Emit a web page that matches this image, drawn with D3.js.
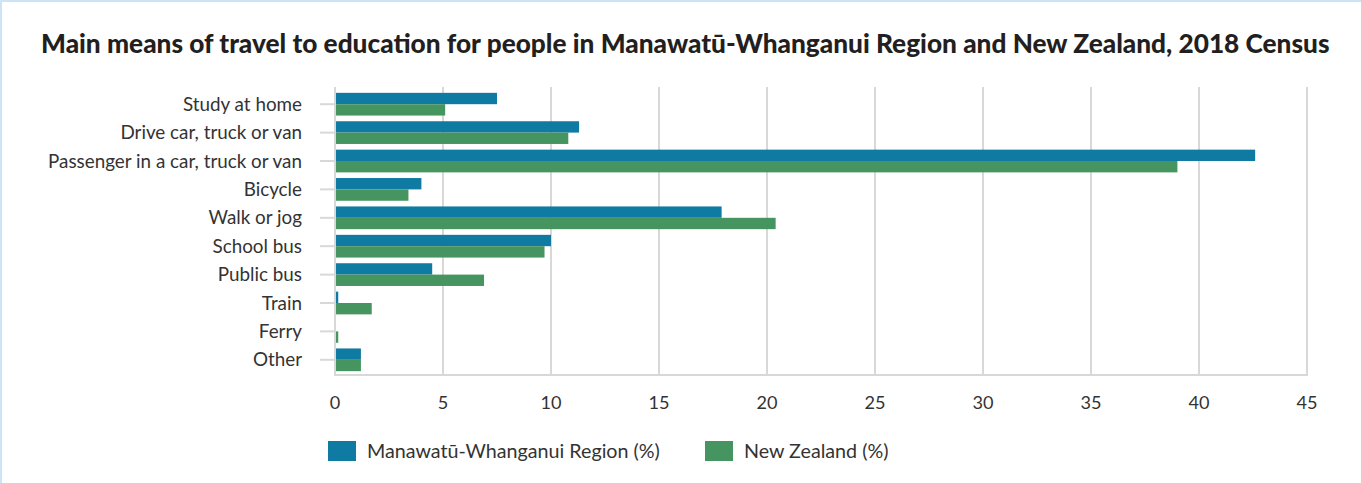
<!DOCTYPE html>
<html>
<head>
<meta charset="utf-8">
<script src="https://cdn.jsdelivr.net/npm/d3@7"></script>
<style>
  html, body { margin: 0; padding: 0; background: #fff; }
  svg { display: block; }
  text { font-family: Lato, "Open Sans", sans-serif; }
</style>
</head>
<body>
<svg width="1361" height="483"></svg>
<script>
  // data
  let categories = ["Study at home", "Drive car, truck or van", "Passenger in a car, truck or van",
    "Bicycle", "Walk or jog", "School bus", "Public bus", "Train", "Ferry", "Other"];
  let regionValues = [7.5, 11.3, 42.6, 4.0, 17.9, 10.0, 4.5, 0.15, 0, 1.2];
  let nzValues = [5.1, 10.8, 39.0, 3.4, 20.4, 9.7, 6.9, 1.7, 0.15, 1.2];
  let seriesNames = ["Manawatū-Whanganui Region (%)", "New Zealand (%)"];
  let xTicks = [0, 5, 10, 15, 20, 25, 30, 35, 40, 45];

  let colors = ["#0f7ba3", "#469460"];
  let gridColor = "#d8d8d8";
  let textColor = "#333";

  let svg = d3.select("svg");

  // pick a font size so that a text gets a given width
  function fitSize(str, weight, target) {
    let t = svg.append("text").attr("font-size", 20).attr("font-weight", weight).text(str);
    let w = t.node().getComputedTextLength();
    t.remove();
    return 20 * target / w;
  }

  // light blue frame on left and top
  svg.append("rect").attr("x", 0).attr("y", 0).attr("width", 1361).attr("height", 2).attr("fill", "#cde4f6");
  svg.append("rect").attr("x", 0).attr("y", 0).attr("width", 2).attr("height", 483).attr("fill", "#cde4f6");

  let titleText = "Main means of travel to education for people in Manawatū-Whanganui Region and New Zealand, 2018 Census";
  svg.append("text")
      .attr("x", 41)
      .attr("y", 53)
      .attr("font-size", fitSize(titleText, 900, 1289))
      .attr("font-weight", 900)
      .attr("fill", "#231f20")
      .text(titleText);

  let labelSize = fitSize(categories[2], 400, 254);
  let tickSize = fitSize("45", 400, 21);
  let legendSize = fitSize(seriesNames[0], 400, 293);

  let x = d3.scaleLinear()
      .domain([0, 45])
      .range([335, 1307]);

  let y = d3.scaleBand()
      .domain(categories)
      .range([90, 374])
      .paddingInner(0.2)
      .paddingOuter(0.1);

  let plotTop = 87, plotBottom = 375;

  // vertical grid
  svg.append("g")
    .selectAll("line")
    .data(xTicks)
    .enter().append("line")
      .attr("x1", (d) => x(d))
      .attr("x2", (d) => x(d))
      .attr("y1", plotTop)
      .attr("y2", plotBottom)
      .attr("stroke", gridColor)
      .attr("stroke-width", 2);

  // bottom axis line
  svg.append("line")
      .attr("x1", x(0) - 1).attr("x2", x(45) + 1)
      .attr("y1", plotBottom).attr("y2", plotBottom)
      .attr("stroke", gridColor).attr("stroke-width", 2);

  // y ticks
  svg.append("g")
    .selectAll("line")
    .data(categories)
    .enter().append("line")
      .attr("x1", 320)
      .attr("x2", x(0))
      .attr("y1", (d) => y(d) + y.bandwidth() / 2)
      .attr("y2", (d) => y(d) + y.bandwidth() / 2)
      .attr("stroke", gridColor)
      .attr("stroke-width", 2);

  // y labels
  svg.append("g")
    .selectAll("text")
    .data(categories)
    .enter().append("text")
      .attr("x", 302)
      .attr("y", (d) => y(d) + y.bandwidth() / 2)
      .attr("dy", ".35em")
      .attr("text-anchor", "end")
      .attr("font-size", labelSize)
      .attr("fill", textColor)
      .text((d) => d);

  // x tick labels
  svg.append("g")
    .selectAll("text")
    .data(xTicks)
    .enter().append("text")
      .attr("x", (d) => x(d))
      .attr("y", 403)
      .attr("dy", ".35em")
      .attr("text-anchor", "middle")
      .attr("font-size", tickSize)
      .attr("fill", textColor)
      .text((d) => d);

  // bars
  let sub = d3.scaleBand()
      .domain([0, 1])
      .range([0, y.bandwidth()]);

  let rows = categories.map((c, i) => ({ cat: c, vals: [regionValues[i], nzValues[i]] }));

  let bar = svg.append("g")
    .selectAll("g")
    .data(rows)
    .enter().append("g")
      .attr("transform", (d) => `translate(0, ${y(d.cat)})`);

  bar.selectAll("rect")
    .data((d) => d.vals)
    .enter().append("rect")
      .attr("x", x(0) + 1)
      .attr("y", (d, i) => sub(i))
      .attr("width", (d) => Math.max(0, x(d) - x(0) - 1))
      .attr("height", sub.bandwidth())
      .attr("fill", (d, i) => colors[i]);

  // legend
  let legendX = [328, 705];
  let legend = svg.append("g")
    .selectAll("g")
    .data(seriesNames)
    .enter().append("g")
      .attr("transform", (d, i) => `translate(${legendX[i]}, 441)`);

  legend.append("rect")
      .attr("width", 28)
      .attr("height", 20)
      .attr("fill", (d, i) => colors[i]);

  legend.append("text")
      .attr("x", 39)
      .attr("y", 10)
      .attr("dy", ".35em")
      .attr("font-size", legendSize)
      .attr("fill", textColor)
      .text((d) => d);
</script>
</body>
</html>
